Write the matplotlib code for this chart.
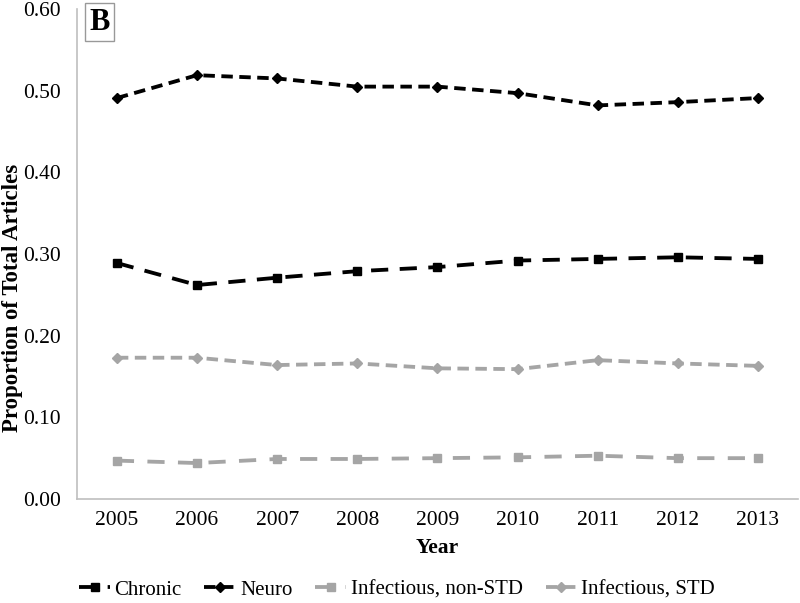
import matplotlib.pyplot as plt

years = ["2005", "2006", "2007", "2008", "2009", "2010", "2011", "2012", "2013"]
chronic = [0.289, 0.262, 0.271, 0.279, 0.284, 0.292, 0.294, 0.296, 0.294]
neuro = [0.491, 0.519, 0.515, 0.505, 0.505, 0.497, 0.482, 0.486, 0.491]
inf_non_std = [0.047, 0.044, 0.049, 0.049, 0.050, 0.051, 0.053, 0.050, 0.050]
inf_std = [0.173, 0.173, 0.164, 0.166, 0.160, 0.159, 0.170, 0.166, 0.163]
yticks = [0.0, 0.1, 0.2, 0.3, 0.4, 0.5, 0.6]

plt.rcParams['font.family'] = ['Liberation Serif', 'DejaVu Serif']

fig = plt.figure(figsize=(8, 6.03), dpi=100)
ax = fig.add_axes([0.096, 0.1725, 0.9015, 0.8125])

x = list(range(len(years)))
black = "#000000"
gray = "#a5a5a5"

ax.plot(x, chronic, color=black, lw=2.75, dashes=(4.5, 3), marker='s', ms=6, label='Chronic')
ax.plot(x, neuro, color=black, lw=2.75, dashes=(3, 1.7), marker='D', ms=5, label='Neuro')
ax.plot(x, inf_non_std, color=gray, lw=2.75, dashes=(4.5, 3.5), marker='s', ms=6, label='Infectious, non-STD')
ax.plot(x, inf_std, color=gray, lw=2.75, dashes=(3, 1.7), marker='D', ms=5, label='Infectious, STD')

ax.set_xlim(-0.5, len(years) - 0.5)
ax.set_ylim(0, 0.6)
ax.set_xticks(x)
ax.set_xticklabels(years, fontsize=15.5)
ax.set_yticks(yticks)
ax.set_yticklabels([f"{v:.2f}" for v in yticks], fontsize=15.5)
ax.tick_params(axis='x', length=0, pad=9)
ax.tick_params(axis='y', length=0, pad=11.5)

for s in ['top', 'right']:
    ax.spines[s].set_visible(False)
for s in ['left', 'bottom']:
    ax.spines[s].set_color('#bfbfbf')
    ax.spines[s].set_linewidth(1.2)

ax.set_xlabel("Year", fontsize=15.5, fontweight='bold')
ax.xaxis.set_label_coords(0.5, -0.08)
ax.set_ylabel("Proportion of Total Articles", fontsize=16.5, fontweight='bold')
ax.yaxis.set_label_coords(-0.074, 0.41)

ax.text(0.0175, 1.003, "B", transform=ax.transAxes, fontsize=22, fontweight='bold',
        va='top', ha='left', clip_on=False,
        bbox=dict(boxstyle='square,pad=0.15', fc='white', ec='#999999', lw=1))

fig.legend(loc='center', bbox_to_anchor=(0.496, 0.022), ncol=4, frameon=False,
           fontsize=15, handlelength=1.5, handletextpad=0.2, columnspacing=1.1,
           borderaxespad=0)

fig.savefig("out.png", dpi=100)
